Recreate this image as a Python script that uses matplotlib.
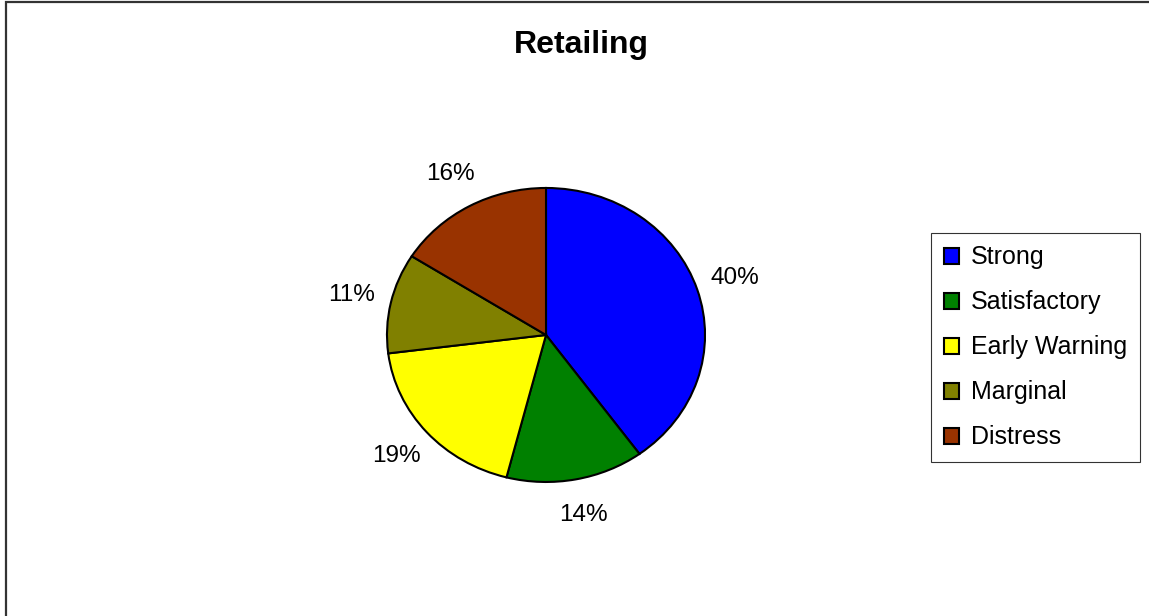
import matplotlib
matplotlib.use("Agg")
import matplotlib.pyplot as plt
from matplotlib.patches import Rectangle

# Данные диаграммы
categories = ["Strong", "Satisfactory", "Early Warning", "Marginal", "Distress"]
shares = [40, 14, 19, 11, 16]
colors = ["#0000ff", "#008000", "#ffff00", "#808000", "#993300"]

plt.rcParams["font.family"] = ["Liberation Sans", "DejaVu Sans"]

fig = plt.figure(figsize=(11.49, 6.16), dpi=100)

# Рамка вокруг области диаграммы
fig.patches.append(Rectangle((6 / 1149, -0.1), 1.2, 1.1 - 2 / 616,
                             transform=fig.transFigure, fill=False,
                             edgecolor="#333333", linewidth=1.6))

# Оси под эллиптический пирог (как в Excel)
ax = fig.add_axes([0.3022, 0.1579, 0.346, 0.5966])
wedges, texts = ax.pie(shares, colors=colors, startangle=90, counterclock=False,
                       labels=[f"{v}%" for v in shares], labeldistance=1.25,
                       wedgeprops=dict(edgecolor="black", linewidth=1.5),
                       textprops=dict(fontsize=17.5))
for t in texts:
    t.set_ha("center")
    t.set_va("center")
ax.set_aspect("auto")
ax.set_xlim(-1.25, 1.25)
ax.set_ylim(-1.25, 1.25)

fig.text(0.5057, 0.927, "Retailing", ha="center", va="center",
         fontsize=23, fontweight="bold")

leg = fig.legend(wedges, categories, loc="center left",
                 bbox_to_anchor=(931 / 1149, 0.436), fontsize=18,
                 frameon=True, fancybox=False, shadow=False,
                 handlelength=0.6, handleheight=0.6, handletextpad=0.5,
                 labelspacing=0.84, borderpad=0.5, borderaxespad=0)
leg.get_frame().set_edgecolor("black")
leg.get_frame().set_linewidth(0.8)

plt.savefig("out.png", dpi=100)
